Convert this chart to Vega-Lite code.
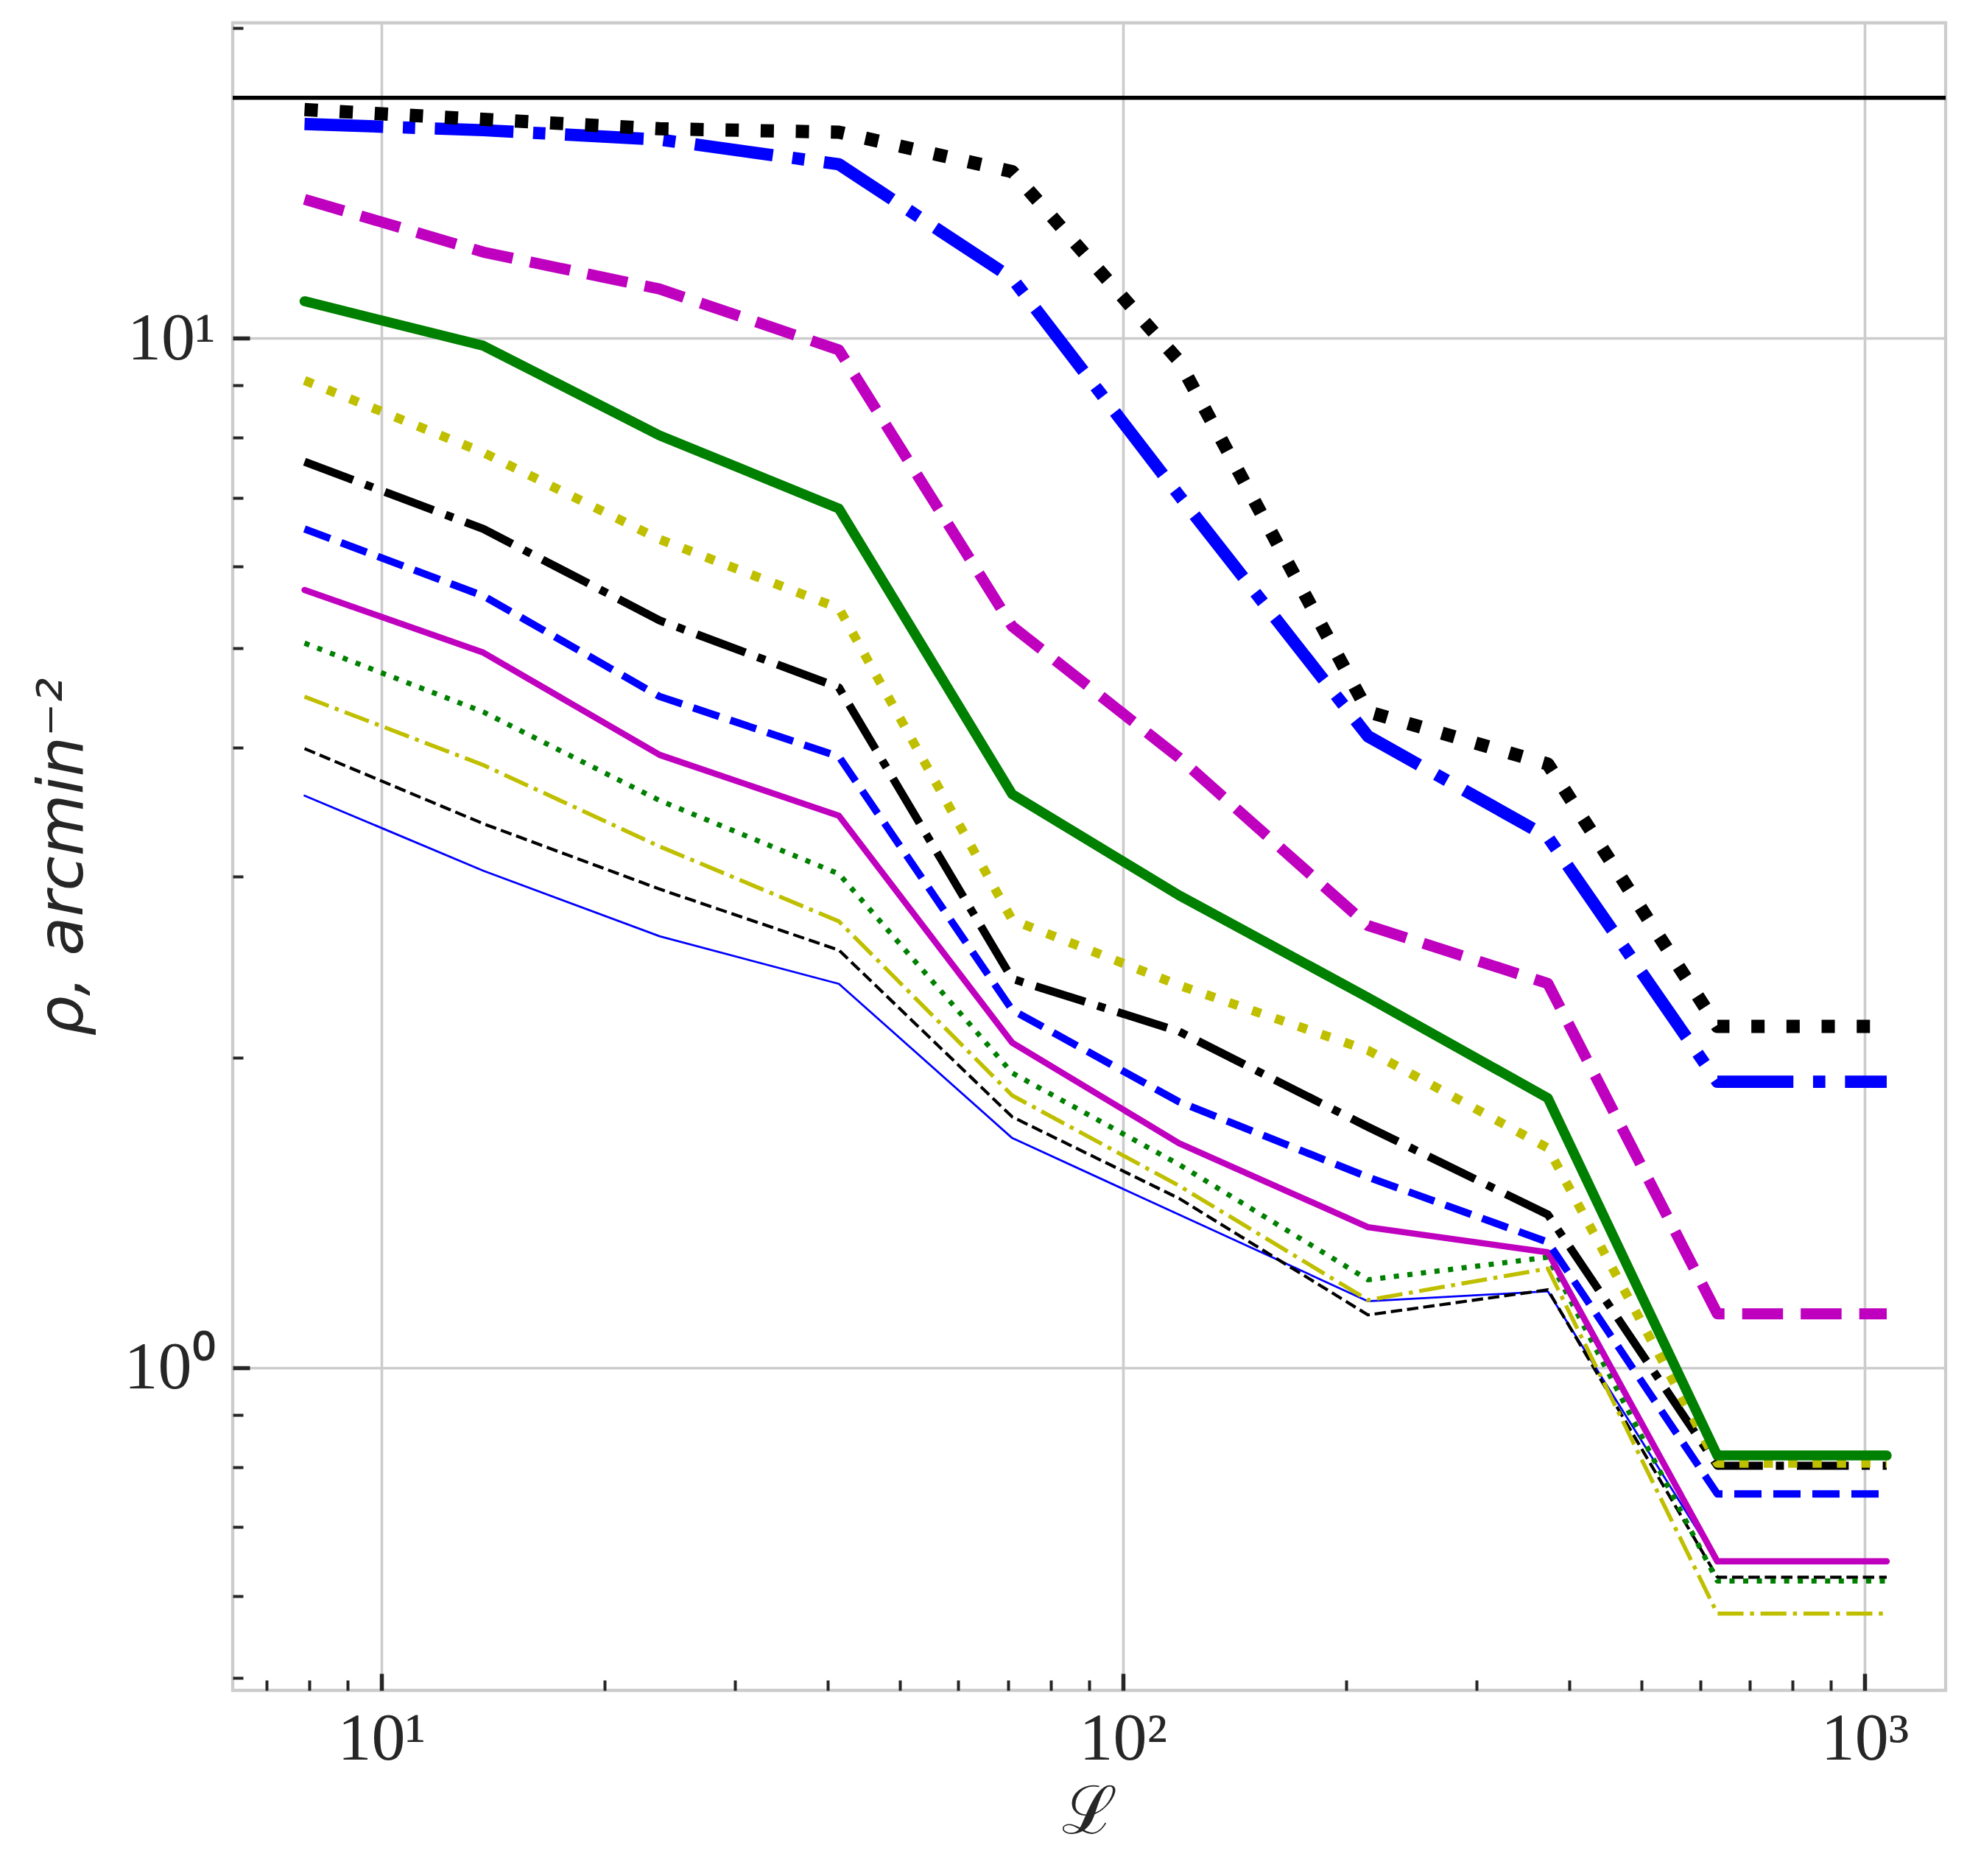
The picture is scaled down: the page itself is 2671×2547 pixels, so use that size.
{
  "$schema": "https://vega.github.io/schema/vega-lite/v6.json",
  "width": 2326,
  "height": 2264,
  "autosize": {"type": "none"},
  "padding": {"left": 316, "top": 31, "right": 29, "bottom": 252},
  "background": "white",
  "config": {
    "view": {"stroke": "#cccccc", "strokeWidth": 4.3},
    "axis": {"domain": false, "tickColor": "#262626", "labelColor": "#262626", "titleColor": "#262626", "gridColor": "#cccccc", "gridWidth": 3.6}
  },
  "datasets": {
    "curves": [
      {"s":"s1","L":7.88,"rho":16.67},{"s":"s1","L":13.73,"rho":16.31},{"s":"s1","L":23.73,"rho":15.97},{"s":"s1","L":41.4,"rho":15.85},{"s":"s1","L":70.9,"rho":14.51},{"s":"s1","L":119,"rho":9.5},{"s":"s1","L":214,"rho":4.336},{"s":"s1","L":374,"rho":3.857},{"s":"s1","L":633,"rho":2.145},{"s":"s1","L":1071,"rho":2.145},
      {"s":"s2","L":7.88,"rho":16.14},{"s":"s2","L":13.73,"rho":15.92},{"s":"s2","L":23.73,"rho":15.59},{"s":"s2","L":41.4,"rho":14.75},{"s":"s2","L":70.9,"rho":11.43},{"s":"s2","L":119,"rho":7.035},{"s":"s2","L":214,"rho":4.104},{"s":"s2","L":374,"rho":3.276},{"s":"s2","L":633,"rho":1.895},{"s":"s2","L":1071,"rho":1.895},
      {"s":"s3","L":7.88,"rho":13.64},{"s":"s3","L":13.73,"rho":12.12},{"s":"s3","L":23.73,"rho":11.16},{"s":"s3","L":41.4,"rho":9.737},{"s":"s3","L":70.9,"rho":5.248},{"s":"s3","L":119,"rho":3.912},{"s":"s3","L":214,"rho":2.688},{"s":"s3","L":374,"rho":2.361},{"s":"s3","L":633,"rho":1.128},{"s":"s3","L":1071,"rho":1.128},
      {"s":"s4","L":7.88,"rho":10.86},{"s":"s4","L":13.73,"rho":9.83},{"s":"s4","L":23.73,"rho":8.043},{"s":"s4","L":41.4,"rho":6.83},{"s":"s4","L":70.9,"rho":3.606},{"s":"s4","L":119,"rho":2.876},{"s":"s4","L":214,"rho":2.288},{"s":"s4","L":374,"rho":1.827},{"s":"s4","L":633,"rho":0.8215},{"s":"s4","L":1071,"rho":0.8215},
      {"s":"s5","L":7.88,"rho":9.096},{"s":"s5","L":13.73,"rho":7.741},{"s":"s5","L":23.73,"rho":6.376},{"s":"s5","L":41.4,"rho":5.465},{"s":"s5","L":70.9,"rho":2.722},{"s":"s5","L":119,"rho":2.352},{"s":"s5","L":214,"rho":2.033},{"s":"s5","L":374,"rho":1.634},{"s":"s5","L":633,"rho":0.8077},{"s":"s5","L":1071,"rho":0.8077},
      {"s":"s6","L":7.88,"rho":7.584},{"s":"s6","L":13.73,"rho":6.525},{"s":"s6","L":23.73,"rho":5.318},{"s":"s6","L":41.4,"rho":4.577},{"s":"s6","L":70.9,"rho":2.386},{"s":"s6","L":119,"rho":2.121},{"s":"s6","L":214,"rho":1.713},{"s":"s6","L":374,"rho":1.408},{"s":"s6","L":633,"rho":0.803},{"s":"s6","L":1071,"rho":0.803},
      {"s":"s7","L":7.88,"rho":6.525},{"s":"s7","L":13.73,"rho":5.617},{"s":"s7","L":23.73,"rho":4.486},{"s":"s7","L":41.4,"rho":3.922},{"s":"s7","L":70.9,"rho":2.225},{"s":"s7","L":119,"rho":1.812},{"s":"s7","L":214,"rho":1.531},{"s":"s7","L":374,"rho":1.324},{"s":"s7","L":633,"rho":0.7539},{"s":"s7","L":1071,"rho":0.7539},
      {"s":"s8","L":7.88,"rho":5.693},{"s":"s8","L":13.73,"rho":4.948},{"s":"s8","L":23.73,"rho":3.937},{"s":"s8","L":41.4,"rho":3.436},{"s":"s8","L":70.9,"rho":2.068},{"s":"s8","L":119,"rho":1.652},{"s":"s8","L":214,"rho":1.369},{"s":"s8","L":374,"rho":1.294},{"s":"s8","L":633,"rho":0.6483},{"s":"s8","L":1071,"rho":0.6483},
      {"s":"s9","L":7.88,"rho":5.055},{"s":"s9","L":13.73,"rho":4.333},{"s":"s9","L":23.73,"rho":3.555},{"s":"s9","L":41.4,"rho":3.017},{"s":"s9","L":70.9,"rho":1.933},{"s":"s9","L":119,"rho":1.575},{"s":"s9","L":214,"rho":1.217},{"s":"s9","L":374,"rho":1.28},{"s":"s9","L":633,"rho":0.6205},{"s":"s9","L":1071,"rho":0.6205},
      {"s":"s10","L":7.88,"rho":4.484},{"s":"s10","L":13.73,"rho":3.848},{"s":"s10","L":23.73,"rho":3.208},{"s":"s10","L":41.4,"rho":2.713},{"s":"s10","L":70.9,"rho":1.838},{"s":"s10","L":119,"rho":1.502},{"s":"s10","L":214,"rho":1.163},{"s":"s10","L":374,"rho":1.248},{"s":"s10","L":633,"rho":0.5769},{"s":"s10","L":1071,"rho":0.5769},
      {"s":"s11","L":7.88,"rho":3.992},{"s":"s11","L":13.73,"rho":3.375},{"s":"s11","L":23.73,"rho":2.916},{"s":"s11","L":41.4,"rho":2.544},{"s":"s11","L":70.9,"rho":1.752},{"s":"s11","L":119,"rho":1.46},{"s":"s11","L":214,"rho":1.125},{"s":"s11","L":374,"rho":1.19},{"s":"s11","L":633,"rho":0.6258},{"s":"s11","L":1071,"rho":0.6258},
      {"s":"s12","L":7.88,"rho":3.594},{"s":"s12","L":13.73,"rho":3.038},{"s":"s12","L":23.73,"rho":2.624},{"s":"s12","L":41.4,"rho":2.359},{"s":"s12","L":70.9,"rho":1.671},{"s":"s12","L":119,"rho":1.408},{"s":"s12","L":214,"rho":1.16},{"s":"s12","L":374,"rho":1.186},{"s":"s12","L":633,"rho":0.6479},{"s":"s12","L":1071,"rho":0.6479}
    ],
    "ref": [{"level": 17.12}]
  },
  "layer": [
    {
      "data": {"name": "curves"},
      "transform": [{"filter": "datum.s === 's12'"}],
      "mark": {"type": "line", "color": "#0000ff", "strokeWidth": 2.8, "strokeCap": "round", "strokeJoin": "round"},
      "encoding": {
        "x": {"field": "L", "type": "quantitative", "scale": {"type": "log", "domain": [6.305, 1286], "nice": false},
          "axis": {"orient": "bottom", "values": [10, 100, 1000], "labelExpr": "datum.value == 10 ? '10¹' : datum.value == 100 ? '10²' : '10³'", "grid": true, "ticks": true, "tickSize": -23, "tickWidth": 5.5, "labelFont": "Liberation Serif", "labelFontSize": 92, "labelPadding": 43, "labelOverlap": false, "labelFlush": false, "labelBound": false, "title": "ℒ", "titleFont": "DejaVu Serif", "titleFontSize": 90, "titleFontWeight": "normal", "titleX": 1163, "titleY": 166, "titleBaseline": "middle", "titleAlign": "center"}},
        "y": {"field": "rho", "type": "quantitative", "scale": {"type": "log", "domain": [0.4858, 20.24], "nice": false},
          "axis": {"orient": "left", "values": [1, 10], "labelExpr": "datum.value == 1 ? '10⁰' : '10¹'", "grid": true, "ticks": true, "tickSize": -23, "tickWidth": 5.5, "labelFont": "Liberation Serif", "labelFontSize": 92, "labelPadding": 47, "labelOverlap": false, "labelFlush": false, "labelBound": false, "title": "ρ, arcmin⁻²", "titleFont": "DejaVu Sans", "titleFontStyle": "italic", "titleFontSize": 86, "titleFontWeight": "normal", "titleAngle": -90, "titleX": -231, "titleY": 1132, "titleBaseline": "middle", "titleAlign": "center"}}
      }
    },
    {
      "data": {"name": "curves"},
      "transform": [{"filter": "datum.s === 's11'"}],
      "mark": {"type": "line", "color": "#000000", "strokeWidth": 4.2, "strokeDash": [15.5, 6.7], "strokeCap": "butt", "strokeJoin": "round"},
      "encoding": {
        "x": {"field": "L", "type": "quantitative", "scale": {"type": "log", "domain": [6.305, 1286], "nice": false},
          "axis": {"orient": "bottom", "values": [7, 8, 9, 20, 30, 40, 50, 60, 70, 80, 90, 200, 300, 400, 500, 600, 700, 800, 900], "labels": false, "grid": false, "ticks": true, "tickSize": -14, "tickWidth": 4, "title": null}},
        "y": {"field": "rho", "type": "quantitative", "scale": {"type": "log", "domain": [0.4858, 20.24], "nice": false},
          "axis": {"orient": "left", "values": [0.5, 0.6, 0.7, 0.8, 0.9, 2, 3, 4, 5, 6, 7, 8, 9, 20], "labels": false, "grid": false, "ticks": true, "tickSize": -14, "tickWidth": 4, "title": null}}
      }
    },
    {
      "data": {"name": "curves"},
      "transform": [{"filter": "datum.s === 's10'"}],
      "mark": {"type": "line", "color": "#bfbf00", "strokeWidth": 5.5, "strokeDash": [35.2, 8.8, 5.5, 8.8], "strokeCap": "butt", "strokeJoin": "round"},
      "encoding": {
        "x": {"field": "L", "type": "quantitative", "scale": {"type": "log", "domain": [6.305, 1286], "nice": false}, "axis": null},
        "y": {"field": "rho", "type": "quantitative", "scale": {"type": "log", "domain": [0.4858, 20.24], "nice": false}, "axis": null}
      }
    },
    {
      "data": {"name": "curves"},
      "transform": [{"filter": "datum.s === 's9'"}],
      "mark": {"type": "line", "color": "#008000", "strokeWidth": 7, "strokeDash": [7, 11.55], "strokeCap": "butt", "strokeJoin": "round"},
      "encoding": {
        "x": {"field": "L", "type": "quantitative", "scale": {"type": "log", "domain": [6.305, 1286], "nice": false}, "axis": null},
        "y": {"field": "rho", "type": "quantitative", "scale": {"type": "log", "domain": [0.4858, 20.24], "nice": false}, "axis": null}
      }
    },
    {
      "data": {"name": "curves"},
      "transform": [{"filter": "datum.s === 's8'"}],
      "mark": {"type": "line", "color": "#bf00bf", "strokeWidth": 8.5, "strokeCap": "round", "strokeJoin": "round"},
      "encoding": {
        "x": {"field": "L", "type": "quantitative", "scale": {"type": "log", "domain": [6.305, 1286], "nice": false}, "axis": null},
        "y": {"field": "rho", "type": "quantitative", "scale": {"type": "log", "domain": [0.4858, 20.24], "nice": false}, "axis": null}
      }
    },
    {
      "data": {"name": "curves"},
      "transform": [{"filter": "datum.s === 's7'"}],
      "mark": {"type": "line", "color": "#0000ff", "strokeWidth": 10, "strokeDash": [37, 16], "strokeCap": "butt", "strokeJoin": "round"},
      "encoding": {
        "x": {"field": "L", "type": "quantitative", "scale": {"type": "log", "domain": [6.305, 1286], "nice": false}, "axis": null},
        "y": {"field": "rho", "type": "quantitative", "scale": {"type": "log", "domain": [0.4858, 20.24], "nice": false}, "axis": null}
      }
    },
    {
      "data": {"name": "curves"},
      "transform": [{"filter": "datum.s === 's6'"}],
      "mark": {"type": "line", "color": "#000000", "strokeWidth": 11, "strokeDash": [70.4, 17.6, 11, 17.6], "strokeCap": "butt", "strokeJoin": "round"},
      "encoding": {
        "x": {"field": "L", "type": "quantitative", "scale": {"type": "log", "domain": [6.305, 1286], "nice": false}, "axis": null},
        "y": {"field": "rho", "type": "quantitative", "scale": {"type": "log", "domain": [0.4858, 20.24], "nice": false}, "axis": null}
      }
    },
    {
      "data": {"name": "curves"},
      "transform": [{"filter": "datum.s === 's5'"}],
      "mark": {"type": "line", "color": "#bfbf00", "strokeWidth": 12.5, "strokeDash": [12.5, 20.6], "strokeCap": "butt", "strokeJoin": "round"},
      "encoding": {
        "x": {"field": "L", "type": "quantitative", "scale": {"type": "log", "domain": [6.305, 1286], "nice": false}, "axis": null},
        "y": {"field": "rho", "type": "quantitative", "scale": {"type": "log", "domain": [0.4858, 20.24], "nice": false}, "axis": null}
      }
    },
    {
      "data": {"name": "curves"},
      "transform": [{"filter": "datum.s === 's4'"}],
      "mark": {"type": "line", "color": "#008000", "strokeWidth": 13.5, "strokeCap": "round", "strokeJoin": "round"},
      "encoding": {
        "x": {"field": "L", "type": "quantitative", "scale": {"type": "log", "domain": [6.305, 1286], "nice": false}, "axis": null},
        "y": {"field": "rho", "type": "quantitative", "scale": {"type": "log", "domain": [0.4858, 20.24], "nice": false}, "axis": null}
      }
    },
    {
      "data": {"name": "curves"},
      "transform": [{"filter": "datum.s === 's3'"}],
      "mark": {"type": "line", "color": "#bf00bf", "strokeWidth": 15, "strokeDash": [55.5, 24], "strokeCap": "butt", "strokeJoin": "round"},
      "encoding": {
        "x": {"field": "L", "type": "quantitative", "scale": {"type": "log", "domain": [6.305, 1286], "nice": false}, "axis": null},
        "y": {"field": "rho", "type": "quantitative", "scale": {"type": "log", "domain": [0.4858, 20.24], "nice": false}, "axis": null}
      }
    },
    {
      "data": {"name": "curves"},
      "transform": [{"filter": "datum.s === 's2'"}],
      "mark": {"type": "line", "color": "#0000ff", "strokeWidth": 16.7, "strokeDash": [106.9, 26.7, 16.7, 26.7], "strokeCap": "butt", "strokeJoin": "round"},
      "encoding": {
        "x": {"field": "L", "type": "quantitative", "scale": {"type": "log", "domain": [6.305, 1286], "nice": false}, "axis": null},
        "y": {"field": "rho", "type": "quantitative", "scale": {"type": "log", "domain": [0.4858, 20.24], "nice": false}, "axis": null}
      }
    },
    {
      "data": {"name": "curves"},
      "transform": [{"filter": "datum.s === 's1'"}],
      "mark": {"type": "line", "color": "#000000", "strokeWidth": 18, "strokeDash": [18, 29.7], "strokeCap": "butt", "strokeJoin": "round"},
      "encoding": {
        "x": {"field": "L", "type": "quantitative", "scale": {"type": "log", "domain": [6.305, 1286], "nice": false}, "axis": null},
        "y": {"field": "rho", "type": "quantitative", "scale": {"type": "log", "domain": [0.4858, 20.24], "nice": false}, "axis": null}
      }
    },
    {
      "data": {"name": "ref"},
      "mark": {"type": "rule", "color": "#000000", "strokeWidth": 5.5},
      "encoding": {
        "y": {"field": "level", "type": "quantitative", "scale": {"type": "log", "domain": [0.4858, 20.24], "nice": false}, "axis": null}
      }
    }
  ],
  "resolve": {"axis": {"x": "independent", "y": "independent"}}
}
